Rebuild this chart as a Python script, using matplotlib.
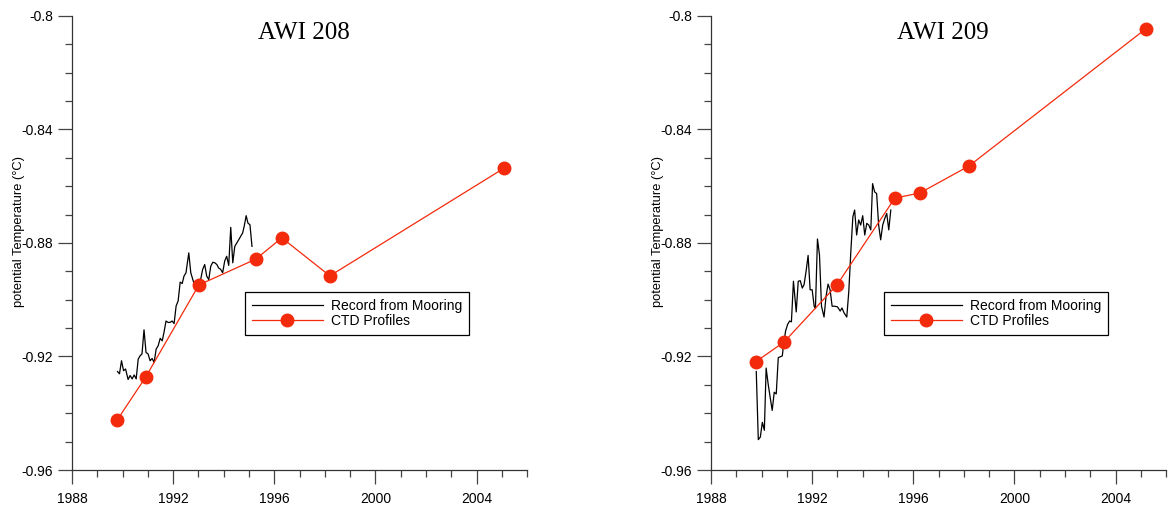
import numpy as np
import matplotlib
matplotlib.use("Agg")
import matplotlib.pyplot as plt
from matplotlib.ticker import MultipleLocator

# ---- data ----
# CTD profiles
ctd208_year = [1989.78, 1990.92, 1993.02, 1995.27, 1996.30, 1998.20, 2005.10]
ctd208_temp = [-0.9425, -0.9272, -0.8948, -0.8857, -0.8782, -0.8916, -0.8536]

ctd209_year = [1989.78, 1990.89, 1992.98, 1995.27, 1996.26, 1998.20, 2005.19]
ctd209_temp = [-0.9218, -0.9149, -0.8948, -0.8642, -0.8624, -0.8529, -0.8046]

# mooring records
moor208_year = [1989.80, 1989.88, 1989.96, 1990.04, 1990.12, 1990.22, 1990.30, 1990.38,
                1990.46, 1990.54, 1990.62, 1990.70, 1990.77, 1990.85, 1990.93, 1991.01,
                1991.09, 1991.17, 1991.25, 1991.33, 1991.41, 1991.49, 1991.57, 1991.64,
                1991.72, 1991.80, 1991.88, 1991.96, 1992.04, 1992.12, 1992.20, 1992.28,
                1992.36, 1992.43, 1992.51, 1992.62, 1992.70, 1992.78, 1992.86, 1992.94,
                1993.01, 1993.09, 1993.17, 1993.25, 1993.33, 1993.41, 1993.49, 1993.57,
                1993.65, 1993.73, 1993.80, 1993.88, 1993.96, 1994.04, 1994.12, 1994.20,
                1994.28, 1994.36, 1994.44, 1994.52, 1994.60, 1994.67, 1994.75, 1994.81,
                1994.89, 1994.96, 1995.04, 1995.12]
moor208_temp = [-0.9253, -0.9261, -0.9215, -0.9250, -0.9244, -0.9281, -0.9267, -0.9279,
                -0.9265, -0.9279, -0.9209, -0.9197, -0.9191, -0.9106, -0.9186, -0.9191,
                -0.9215, -0.9207, -0.9221, -0.9174, -0.9162, -0.9136, -0.9145, -0.9115,
                -0.9075, -0.9080, -0.9080, -0.9075, -0.9084, -0.9022, -0.9004, -0.8938,
                -0.8943, -0.8917, -0.8905, -0.8835, -0.8905, -0.8929, -0.8952, -0.8940,
                -0.8929, -0.8929, -0.8893, -0.8876, -0.8917, -0.8929, -0.8882, -0.8868,
                -0.8870, -0.8876, -0.8888, -0.8893, -0.8905, -0.8864, -0.8847, -0.8879,
                -0.8745, -0.8870, -0.8812, -0.8800, -0.8788, -0.8777, -0.8765, -0.8742,
                -0.8704, -0.8730, -0.8736, -0.8812]

moor209_year = [1989.79, 1989.87, 1989.95, 1990.03, 1990.11, 1990.18, 1990.26, 1990.34,
                1990.42, 1990.50, 1990.58, 1990.66, 1990.74, 1990.82, 1990.87, 1990.95,
                1991.03, 1991.11, 1991.18, 1991.26, 1991.37, 1991.45, 1991.53, 1991.61,
                1991.68, 1991.76, 1991.84, 1991.92, 1992.00, 1992.08, 1992.13, 1992.21,
                1992.29, 1992.37, 1992.47, 1992.55, 1992.63, 1992.71, 1992.79, 1992.89,
                1993.00, 1993.11, 1993.18, 1993.26, 1993.37, 1993.45, 1993.53, 1993.61,
                1993.68, 1993.76, 1993.84, 1993.92, 1994.00, 1994.08, 1994.16, 1994.24,
                1994.32, 1994.39, 1994.47, 1994.55, 1994.63, 1994.71, 1994.79, 1994.87,
                1994.95, 1995.03, 1995.11]
moor209_temp = [-0.9253, -0.9493, -0.9484, -0.9432, -0.9460, -0.9241, -0.9297, -0.9344,
                -0.9390, -0.9326, -0.9332, -0.9204, -0.9201, -0.9198, -0.9157, -0.9110,
                -0.9087, -0.9075, -0.9078, -0.8935, -0.9043, -0.8935, -0.8933, -0.8959,
                -0.8947, -0.8900, -0.8844, -0.8965, -0.8965, -0.9023, -0.9031, -0.8786,
                -0.8842, -0.9023, -0.9061, -0.8988, -0.8945, -0.8965, -0.9023, -0.9023,
                -0.9025, -0.9040, -0.9029, -0.9046, -0.9061, -0.8970, -0.8830, -0.8708,
                -0.8684, -0.8772, -0.8719, -0.8737, -0.8704, -0.8772, -0.8731, -0.8737,
                -0.8754, -0.8591, -0.8620, -0.8626, -0.8737, -0.8789, -0.8737, -0.8714,
                -0.8696, -0.8754, -0.8684]

titles = ["AWI 208", "AWI 209"]
ylab = "potential Temperature (\u00b0C)"

red = "#f42a0c"

plt.rcParams['font.family'] = ['Liberation Sans', 'DejaVu Sans']

fig = plt.figure(figsize=(11.7, 5.12), dpi=100)
ax1 = fig.add_axes([0.0615, 0.082, 0.389, 0.887])
ax2 = fig.add_axes([0.6077, 0.082, 0.389, 0.887])

panels = [(ax1, moor208_year, moor208_temp, ctd208_year, ctd208_temp, titles[0]),
          (ax2, moor209_year, moor209_temp, ctd209_year, ctd209_temp, titles[1])]

for ax, my, mt, cy, ct, ttl in panels:
    ax.plot(my, mt, color='black', lw=0.9, label='Record from Mooring')
    ax.plot(cy, ct, color=red, lw=0.9, marker='o', markersize=9,
            markeredgecolor=red, markerfacecolor=red, label='CTD Profiles')
    ax.set_xlim(1988, 2006)
    ax.set_ylim(-0.96, -0.8)
    ax.xaxis.set_major_locator(MultipleLocator(4))
    ax.xaxis.set_minor_locator(MultipleLocator(1))
    ax.yaxis.set_major_locator(MultipleLocator(0.04))
    ax.yaxis.set_minor_locator(MultipleLocator(0.01))
    ax.yaxis.set_major_formatter(matplotlib.ticker.FuncFormatter(
        lambda v, p: ('%.2f' % v).rstrip('0').rstrip('.')))
    for s in ['top', 'right']:
        ax.spines[s].set_visible(False)
    for s in ['left', 'bottom']:
        ax.spines[s].set_color('#333333')
        ax.spines[s].set_linewidth(0.9)
    ax.tick_params(which='major', length=10, width=0.9, color='#444444',
                   labelsize=10)
    ax.tick_params(which='minor', length=5, width=0.9, color='#444444')
    ax.tick_params(axis='y', which='major', pad=3.5)
    ax.tick_params(axis='x', which='major', pad=6)
    ax.set_ylabel(ylab, fontsize=9.3)
    ax.yaxis.set_label_coords(-0.104, 0.526)
    ax.text(0.51, 0.963, ttl, transform=ax.transAxes, ha='center', va='center',
            fontsize=18, family='Liberation Serif')
    leg = ax.legend(loc='upper left', bbox_to_anchor=(0.38, 0.392), fontsize=10,
                    handlelength=5.1, fancybox=False, framealpha=1,
                    edgecolor='black', borderpad=0.5, labelspacing=0.1,
                    handletextpad=0.6, borderaxespad=0)
    leg.get_frame().set_linewidth(0.9)

fig.savefig('out.png', dpi=100)
